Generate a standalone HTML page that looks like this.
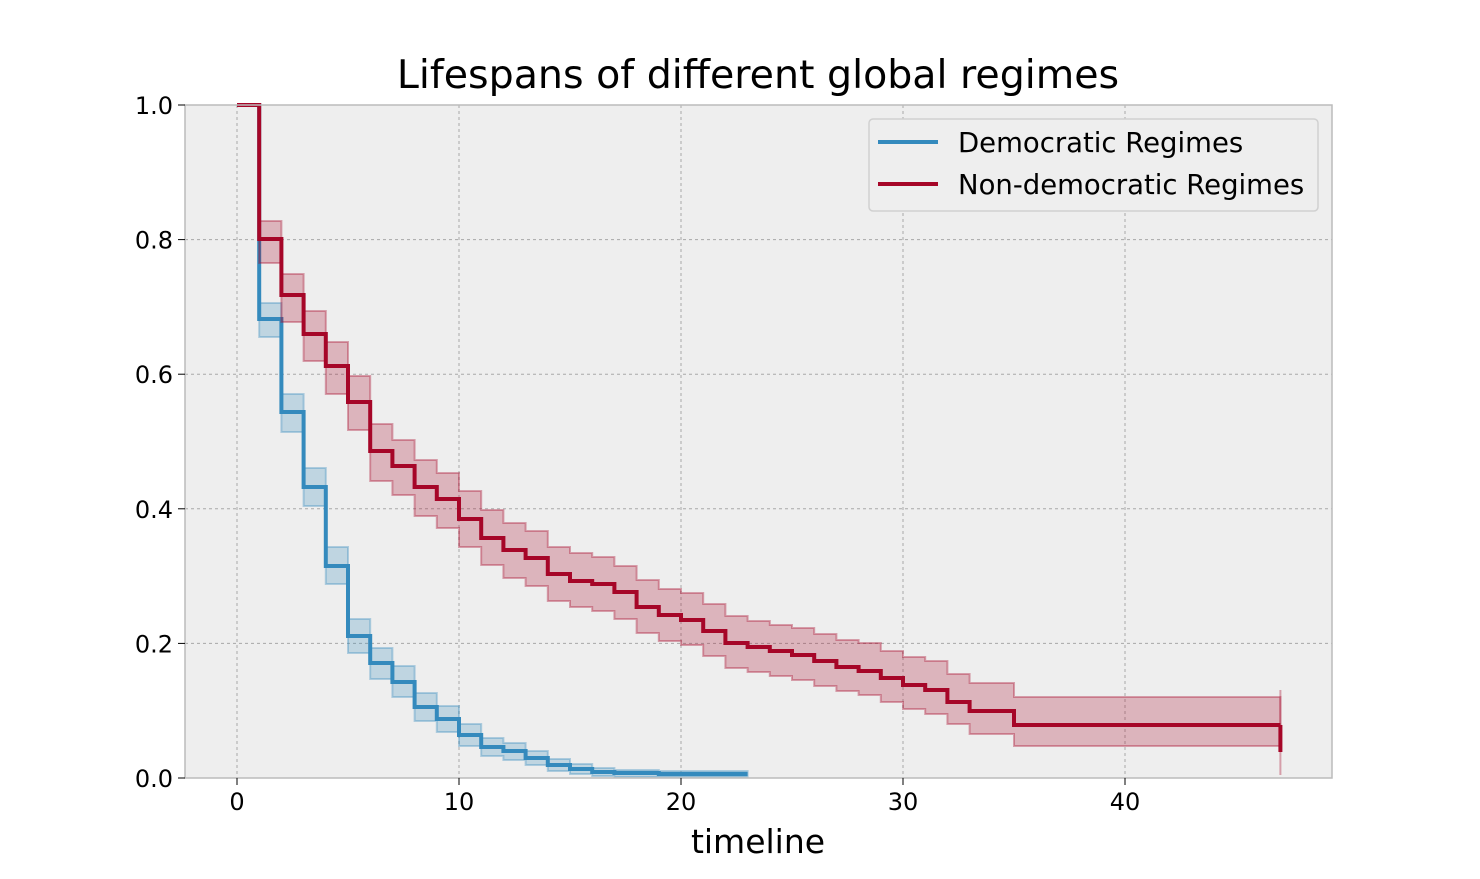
<!DOCTYPE html>
<html><head><meta charset="utf-8"><style>
body{margin:0;background:#fff;}
svg text{font-family:"DejaVu Sans","Liberation Sans",sans-serif;fill:#000;}
</style></head><body>
<svg id="s" width="1480" height="874" xmlns="http://www.w3.org/2000/svg">
<rect x="0" y="0" width="1480" height="874" fill="#fff"/>
<rect x="185" y="105" width="1147" height="673" fill="#eeeeee"/>
<g id="grid" stroke="#a8a8a8" stroke-width="1" stroke-dasharray="3,3"></g>
<g id="data"></g>
<rect x="185" y="105" width="1147" height="673" fill="none" stroke="#bcbcbc" stroke-width="1.5"/>
<g id="ticks" font-size="24"></g>
<text x="758" y="88" font-size="39.5" text-anchor="middle">Lifespans of different global regimes</text>
<text x="758" y="853" font-size="33" text-anchor="middle">timeline</text>
<rect x="869" y="119" width="449" height="92" rx="4" fill="#eeeeee" stroke="#d0d0d0" stroke-width="1.5"/>
<line x1="878" y1="142" x2="938" y2="142" stroke="#348abd" stroke-width="4"/>
<line x1="878" y1="184" x2="938" y2="184" stroke="#a60628" stroke-width="4"/>
<text x="958" y="152" font-size="27.5">Democratic Regimes</text>
<text x="958" y="194" font-size="27.5">Non-democratic Regimes</text>
</svg>
<script>
const X=t=>237+t*22.2;
const g=document.getElementById('grid'),tk=document.getElementById('ticks'),d=document.getElementById('data');
const NS="http://www.w3.org/2000/svg";
function el(p,tag,a,txt){const e=document.createElementNS(NS,tag);for(const k in a)e.setAttribute(k,a[k]);if(txt!==undefined)e.textContent=txt;p.appendChild(e);return e;}
for(let t=0;t<=40;t+=10){el(g,'line',{x1:X(t),x2:X(t),y1:105,y2:778});el(tk,'line',{x1:X(t),x2:X(t),y1:778,y2:785,stroke:'#000'});el(tk,'text',{x:X(t),y:810,'text-anchor':'middle'},String(t));}
for(let i=0;i<=5;i++){const y=778-i*134.6;if(i>0&&i<5)el(g,'line',{x1:185,x2:1332,y1:y,y2:y});el(tk,'line',{x1:178,x2:185,y1:y,y2:y,stroke:'#000'});el(tk,'text',{x:173,y:y+9,'text-anchor':'end'},(i*0.2).toFixed(1));}
const dem=[[0,105,105,105],[1,319,303,337],[2,412,394,432],[3,487,468,506],[4,566,547,584],[5,636,619,653],[6,663,648,679],[7,682,666,697],[8,707,693,721],[9,719,706,732],[10,735,724,746],[11,747,738,756],[12,751,743,760],[13,758,751,765],[14,765,759,771],[15,769,764,774],[16,772,768,776],[17,773,770,777],[19,774,771,777]];
const demEnd=23;
const non=[[0,105,105,105],[1,239,221,263],[2,295,274,322],[3,334,311,361],[4,366,342,394],[5,402,376,430],[6,451,424,481],[7,466,440,495],[8,487,460,516],[9,499,473,528],[10,519,491,547],[11,538,510,565],[12,550,523,578],[13,558,531,586],[14,574,547,601],[15,581,553,607],[16,584,557,611],[17,592,566,619],[18,607,580,633],[19,615,589,641],[20,620,593,645],[21,631,604,656],[22,643,616,668],[23,647,621,672],[24,651,625,676],[25,655,628,680],[26,661,634,686],[27,667,640,691],[28,671,643,695],[29,678,651,702],[30,685,657,709],[31,690,661,714],[32,702,674,724],[33,711,683,734],[35,725,697,746]];
const nonEnd=47;
function step(arr,end,idx){let p=[];for(let i=0;i<arr.length;i++){const x0=X(arr[i][0]),x1=X(i+1<arr.length?arr[i+1][0]:end);p.push([x0,arr[i][idx]],[x1,arr[i][idx]]);}return p;}
function draw(arr,end,col,fill){
 const up=step(arr,end,2),lo=step(arr,end,3);
 const poly=up.concat(lo.slice().reverse()).map(p=>p.join(',')).join(' ');
 el(d,'polygon',{points:poly,fill:fill,'fill-opacity':0.25,stroke:fill,'stroke-opacity':0.35,'stroke-width':2});
 const m=step(arr,end,1);
 el(d,'polyline',{points:m.map(p=>p.join(',')).join(' '),fill:'none',stroke:col,'stroke-width':4});
}
draw(dem,demEnd,'#348abd','#348abd');
draw(non,nonEnd,'#a60628','#a60628');
el(d,'line',{x1:X(47),x2:X(47),y1:690,y2:775,stroke:'#a60628','stroke-opacity':0.35,'stroke-width':2});
el(d,'line',{x1:X(47),x2:X(47),y1:725,y2:752,stroke:'#a60628','stroke-width':4});
</script>
</body></html>
